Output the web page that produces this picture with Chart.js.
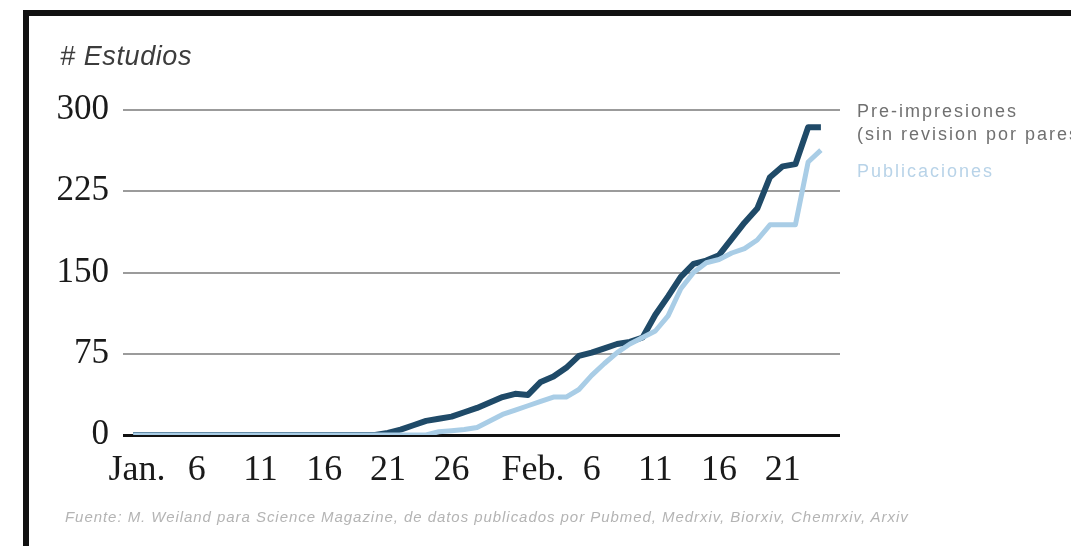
<!DOCTYPE html>
<html>
<head>
<meta charset="utf-8">
<script src="https://cdn.jsdelivr.net/npm/chart.js@4"></script>
<style>
  html, body { margin: 0; padding: 0; background: #fff; }
  #wrap { position: relative; width: 1071px; height: 546px; overflow: hidden; }
  #frame {
    position: absolute; left: 23px; top: 10px; right: 0; bottom: 0;
    border-left: 6px solid #111; border-top: 6px solid #111;
  }
  #ylabel {
    position: absolute; left: 60px; top: 41px; letter-spacing: 0.6px;
    font: italic 27px "Liberation Sans", Arial, sans-serif; color: #3c3c3c;
  }
  .key {
    position: absolute; left: 857px; white-space: nowrap;
    font: 18px "Liberation Sans", Arial, sans-serif; letter-spacing: 2px;
  }
  #source {
    position: absolute; left: 65px; top: 508px; white-space: nowrap;
    font: italic 15px "Liberation Sans", Arial, sans-serif; color: #b4b4b4; letter-spacing: 0.95px;
  }
</style>
</head>
<body>
<div id="wrap">
  <canvas id="chart" width="1071" height="546"></canvas>
  <div id="frame"></div>
  <div id="ylabel"># Estudios</div>
  <div class="key" style="top:101px;color:#707070">Pre-impresiones</div>
  <div class="key" style="top:124px;color:#707070">(sin revision por pares)</div>
  <div class="key" style="top:161px;color:#b8d3e8">Publicaciones</div>
  <div id="source">Fuente: M. Weiland para Science Magazine, de datos publicados por Pubmed, Medrxiv, Biorxiv, Chemrxiv, Arxiv</div>
</div>
<script>
// cumulative counts per day, day 0 = Jan. 1
const preprints = [
  0, 0, 0, 0, 0, 0, 0, 0, 0, 0,
  0, 0, 0, 0, 0, 0, 0, 0, 0, 0,
  2, 5, 9, 13, 15, 17, 21, 25, 30, 35,
  38, 37, 49, 54, 62, 73, 76, 80, 84, 86,
  90, 111, 128, 146, 158, 161, 166, 181, 196, 209,
  238, 248, 250, 284, 284
];
const publications = [
  0, 0, 0, 0, 0, 0, 0, 0, 0, 0,
  0, 0, 0, 0, 0, 0, 0, 0, 0, 0,
  0, 0, 0, 0, 3, 4, 5, 7, 13, 19,
  23, 27, 31, 35, 35, 42, 55, 66, 76, 84,
  90, 96, 110, 135, 150, 159, 162, 168, 172, 180,
  194, 194, 194, 252, 263
];

// x axis: month names sit just left of the day numbers
const tickDays = [0.3, 5, 10, 15, 20, 25, 31.4, 36, 41, 46, 51];
const tickLabels = ["Jan.", "6", "11", "16", "21", "26", "Feb.", "6", "11", "16", "21"];
const yTicks = [0, 75, 150, 225, 300];

const DARK = "#1f4a68";
const LIGHT = "#a9cde6";

function toPoints(values) {
  return values.map((v, i) => ({ x: i, y: v }));
}

const ctx = document.getElementById("chart").getContext("2d");
new Chart(ctx, {
  type: "line",
  data: {
    datasets: [
      // first dataset is drawn on top
      { label: "Publicaciones", data: toPoints(publications), borderColor: LIGHT, borderWidth: 5 },
      { label: "Pre-impresiones (sin revision por pares)", data: toPoints(preprints), borderColor: DARK, borderWidth: 6 }
    ]
  },
  options: {
    responsive: false,
    animation: false,
    layout: { padding: { top: 110, right: 231, bottom: 0, left: 0 } },
    elements: {
      point: { radius: 0 },
      line: { tension: 0, borderJoinStyle: "round", borderCapStyle: "butt" }
    },
    plugins: { legend: { display: false }, tooltip: { enabled: false } },
    scales: {
      x: {
        type: "linear",
        min: -0.8,
        max: 55.5,
        afterBuildTicks: scale => { scale.ticks = tickDays.map(v => ({ value: v })); },
        afterFit: scale => { scale.height = 111; },
        grid: { display: false },
        border: { display: false },
        ticks: {
          autoSkip: false,
          maxRotation: 0,
          padding: 6,
          color: "#1a1a1a",
          font: { family: "Liberation Serif", size: 36 },
          callback: (v, i) => tickLabels[i]
        }
      },
      y: {
        min: 0,
        max: 300,
        afterBuildTicks: scale => { scale.ticks = yTicks.map(v => ({ value: v })); },
        afterFit: scale => { scale.width = 123; },
        border: { display: false },
        grid: {
          drawTicks: false,
          color: c => c.tick.value === 0 ? "#111" : "#9b9b9b",
          lineWidth: c => c.tick.value === 0 ? 3 : 2
        },
        ticks: {
          padding: 14,
          color: "#1a1a1a",
          font: { family: "Liberation Serif", size: 35 }
        }
      }
    }
  }
});
</script>
</body>
</html>
